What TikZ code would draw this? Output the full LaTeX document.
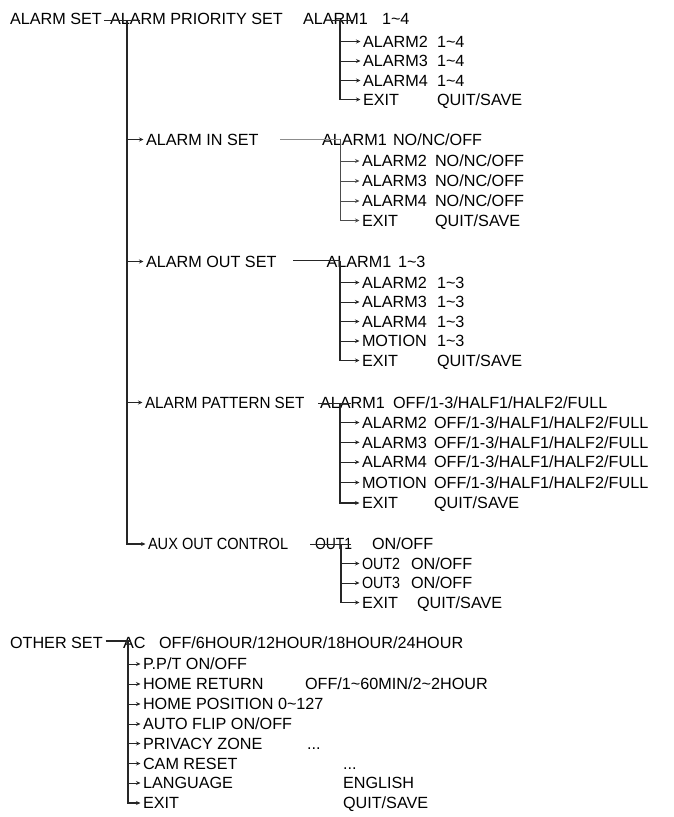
\documentclass[tikz,border=0pt]{standalone}
\usepackage{fontspec}
\setmainfont{Liberation Sans}
\usetikzlibrary{arrows.meta}
\newcommand{\tld}{\textasciitilde}
\begin{document}
\begin{tikzpicture}[x=1pt,y=-1pt,
  txt/.style={anchor=west, inner sep=0pt, outer sep=0pt, text height=11.6pt, text depth=0pt,
              font=\fontsize{16.2}{19}\selectfont, text=black},
  trunk/.style={line width=1.2pt, draw=black!85},
  thinline/.style={line width=0.6pt, draw=black!45},
  br/.style={line width=0.9pt, draw=black!85, -{Stealth[length=4.5pt,width=4pt]}, shorten >=2.5pt},
  lastbr/.style={br, line width=1.2pt}]
\useasboundingbox (0,0) rectangle (673,817);
\fill[white] (0,0) rectangle (673,817);

% ---------- ALARM SET / priority ----------
\node[txt] (as)  at (10,19) {ALARM SET};
\node[txt] (aps) at (110,19) {ALARM PRIORITY SET};
\node[txt] (p1)  at (303,19) {ALARM1};
\node[txt] (p1v) at (382,19) {1\tld4};
\node[txt] (p2)  at (363,41.5) {ALARM2};
\node[txt] (p2v) at (437,41.5) {1\tld4};
\node[txt] (p3)  at (363,61) {ALARM3};
\node[txt] (p3v) at (437,61) {1\tld4};
\node[txt] (p4)  at (363,80.5) {ALARM4};
\node[txt] (p4v) at (437,80.5) {1\tld4};
\node[txt] (p5)  at (363,99.5) {EXIT};
\node[txt] (p5v) at (437,99.5) {QUIT/SAVE};
\coordinate (m0) at (127,20.7);
\coordinate (s1) at (340,20.7);
\draw[trunk] (as.east |- m0) ++(2,0) -- ([xshift=13pt]m0);
\draw[trunk] ([xshift=-9pt]s1) -- ([xshift=14pt]s1);
\foreach \n in {p2,p3,p4} \draw[br] (s1 |- \n.west) -- (\n.west);
\draw[lastbr] (s1) |- (p5.west);

% ---------- ALARM IN SET ----------
\node[txt] (ain) at (146,139.5) {ALARM IN SET};
\node[txt] (i1)  at (322,139.5) {ALARM1};
\node[txt] (i1v) at (393,139.5) {NO/NC/OFF};
\node[txt] (i2)  at (362,161) {ALARM2};
\node[txt] (i2v) at (435,161) {NO/NC/OFF};
\node[txt] (i3)  at (362,181) {ALARM3};
\node[txt] (i3v) at (435,181) {NO/NC/OFF};
\node[txt] (i4)  at (362,201) {ALARM4};
\node[txt] (i4v) at (435,201) {NO/NC/OFF};
\node[txt] (i5)  at (362,220.5) {EXIT};
\node[txt] (i5v) at (435,220.5) {QUIT/SAVE};
\coordinate (s2) at (340,138.8);
\draw[thinline] ([xshift=-60pt]s2) -- (s2);
\foreach \n in {i2,i3,i4} \draw[br,line width=0.7pt,draw=black!70] (s2 |- \n.west) -- (\n.west);
\draw[br,line width=0.8pt,draw=black!70] (s2) |- (i5.west);

% ---------- ALARM OUT SET ----------
\node[txt] (aout) at (146,261.5) {ALARM OUT SET};
\node[txt] (o1)  at (326.5,261.5) {ALARM1};
\node[txt] (o1v) at (398,261.5) {1\tld3};
\node[txt] (o2)  at (362,282.5) {ALARM2};
\node[txt] (o2v) at (437,282.5) {1\tld3};
\node[txt] (o3)  at (362,302) {ALARM3};
\node[txt] (o3v) at (437,302) {1\tld3};
\node[txt] (o4)  at (362,321.5) {ALARM4};
\node[txt] (o4v) at (437,321.5) {1\tld3};
\node[txt] (o5)  at (362,341) {MOTION};
\node[txt] (o5v) at (437,341) {1\tld3};
\node[txt] (o6)  at (362,360.5) {EXIT};
\node[txt] (o6v) at (437,360.5) {QUIT/SAVE};
\coordinate (s3) at (340,260.5);
\draw[trunk] ([xshift=-47pt]s3) -- (s3);
\foreach \n in {o2,o3,o4,o5} \draw[br] (s3 |- \n.west) -- (\n.west);
\draw[lastbr] (s3) |- (o6.west);

% ---------- ALARM PATTERN SET ----------
\node[txt] (apat) at (145,402.5) {\scalebox{0.94}[1]{ALARM PATTERN SET}};
\node[txt] (t1)  at (320,402.5) {ALARM1};
\node[txt] (t1v) at (393,402.5) {OFF/1-3/HALF1/HALF2/FULL};
\node[txt] (t2)  at (362,422.5) {ALARM2};
\node[txt] (t2v) at (434,422.5) {OFF/1-3/HALF1/HALF2/FULL};
\node[txt] (t3)  at (362,442.3) {ALARM3};
\node[txt] (t3v) at (434,442.3) {OFF/1-3/HALF1/HALF2/FULL};
\node[txt] (t4)  at (362,462.1) {ALARM4};
\node[txt] (t4v) at (434,462.1) {OFF/1-3/HALF1/HALF2/FULL};
\node[txt] (t5)  at (362,482.5) {MOTION};
\node[txt] (t5v) at (434,482.5) {OFF/1-3/HALF1/HALF2/FULL};
\node[txt] (t6)  at (362,503) {EXIT};
\node[txt] (t6v) at (434,503) {QUIT/SAVE};
\coordinate (s4) at (340,403.3);
\draw[trunk] ([xshift=-22pt]s4) -- ([xshift=11pt]s4);
\foreach \n in {t2,t3,t4,t5} \draw[br] (s4 |- \n.west) -- (\n.west);
\draw[lastbr] (s4) |- (t6.west);

% ---------- AUX OUT CONTROL ----------
\node[txt] (aux) at (148,544) {\scalebox{0.9}[1]{AUX OUT CONTROL}};
\node[txt] (u1)  at (315,544) {\scalebox{0.86}[1]{OUT1}};
\node[txt] (u1v) at (372,544) {ON/OFF};
\node[txt] (u2)  at (362,563.5) {\scalebox{0.88}[1]{OUT2}};
\node[txt] (u2v) at (411,563.5) {ON/OFF};
\node[txt] (u3)  at (362,583) {\scalebox{0.88}[1]{OUT3}};
\node[txt] (u3v) at (411,583) {ON/OFF};
\node[txt] (u4)  at (362,602.5) {EXIT};
\node[txt] (u4v) at (417,602.5) {QUIT/SAVE};
\coordinate (s5) at (341,544.5);
\draw[trunk] ([xshift=-31pt]s5) -- ([xshift=10pt]s5);
\foreach \n in {u2,u3} \draw[br] (s5 |- \n.west) -- (\n.west);
\draw[lastbr] (s5) |- (u4.west);

% ---------- main trunk ----------
\foreach \n in {ain,aout,apat} \draw[br] (m0 |- \n.west) -- (\n.west);
\draw[lastbr] (m0) |- (aux.west);

% ---------- OTHER SET ----------
\node[txt] (os)  at (10,643) {OTHER SET};
\node[txt] (ac)  at (123,643) {AC};
\node[txt] (acv) at (159,643) {OFF/6HOUR/12HOUR/18HOUR/24HOUR};
\node[txt] (pp)  at (143,664) {P.P/T ON/OFF};
\node[txt] (hr)  at (143,684) {HOME RETURN};
\node[txt] (hrv) at (305,684) {OFF/1\tld60MIN/2\tld2HOUR};
\node[txt] (hp)  at (143,704) {HOME POSITION 0\tld127};
\node[txt] (af)  at (143,724) {AUTO FLIP ON/OFF};
\node[txt] (pz)  at (143,743.5) {PRIVACY ZONE};
\node[txt] (pzv) at (307,743.5) {...};
\node[txt] (cr)  at (143,763.5) {CAM RESET};
\node[txt] (crv) at (343,763.5) {...};
\node[txt] (lg)  at (143,783) {LANGUAGE};
\node[txt] (lgv) at (343,783) {ENGLISH};
\node[txt] (ex)  at (143,803) {EXIT};
\node[txt] (exv) at (343,803) {QUIT/SAVE};
\coordinate (s6) at (128,641);
\draw[trunk] (os.east |- s6) ++(3,0) -- ([xshift=3pt]s6);
\foreach \n in {pp,hr,hp,af,pz,cr,lg} \draw[br] (s6 |- \n.west) -- (\n.west);
\draw[lastbr] (s6) |- (ex.west);
\end{tikzpicture}
\end{document}
